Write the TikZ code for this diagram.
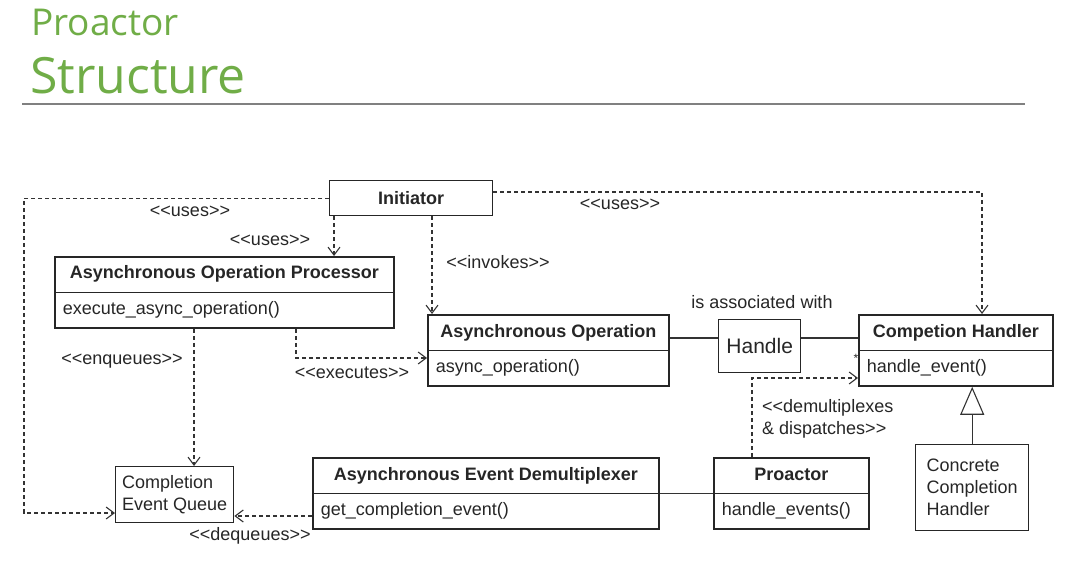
\documentclass[tikz,border=0pt]{standalone}
\usepackage{fontspec}
\setmainfont{Liberation Sans}[Ligatures=TeXOff]
\newfontfamily\titlefont{Open Sans}
\usetikzlibrary{positioning, arrows.meta, shapes.multipart, calc}
\definecolor{titlegreen}{RGB}{112,173,71}

\begin{document}
\begin{tikzpicture}[
    x=1pt, y=-1pt,
    every node/.style={font=\fontsize{18}{22}\selectfont, text=black!85},
    cls/.style={rectangle split, rectangle split parts=2, rectangle split part align={center,left}, rectangle split draw splits=false, draw=black!85, line width=1.6pt, inner xsep=8pt, inner ysep=6pt, anchor=north west},
    box/.style={rectangle, draw=black!85, line width=1.4pt, anchor=north west, align=left},
    lbl/.style={inner sep=0pt},
    dep/.style={dash pattern=on 4pt off 3pt, line width=1.1pt, draw=black!80, -{Straight Barb[length=8pt, width=12pt]}},
    assoc/.style={line width=1.1pt, draw=black!80},
    inherit/.style={line width=1.1pt, draw=black!80, -{Triangle[open, length=28pt, width=24pt]}}
]
\useasboundingbox (0,0) rectangle (1070,577);

% Title
\node[lbl, anchor=base west, font=\titlefont\fontsize{37}{40}\selectfont, text=titlegreen] (ttl) at (31,36) {Proactor};
\node[lbl, anchor=base west, font=\titlefont\fontsize{50}{54}\selectfont, text=titlegreen] (sub) at (30,94) {Structure};
\draw[gray, line width=1.2pt] (22,104) -- (1025,104);

% Classes
\node[box, font=\bfseries\fontsize{18}{22}\selectfont, align=center, minimum width=163pt, minimum height=35pt] (init) at (329,180) {Initiator};
\node[cls, minimum width=339pt] (aop) at (54,256) {\strut\textbf{Asynchronous Operation Processor}\nodepart{two}\strut execute\_async\_operation()};
\node[cls, minimum width=241pt] (ao) at (427,314) {\strut\textbf{Asynchronous Operation}\nodepart{two}\strut async\_operation()};
\node[cls, minimum width=194pt] (ch) at (858,314) {\strut\textbf{Competion Handler}\nodepart{two}\strut handle\_event()};
\node[cls, minimum width=346pt] (aed) at (312,457) {\strut\textbf{Asynchronous Event Demultiplexer}\nodepart{two}\strut get\_completion\_event()};
\node[cls, minimum width=155pt] (pro) at (713,457) {\strut\textbf{Proactor}\nodepart{two}\strut handle\_events()};
\foreach \n in {aop, ao, ch, aed, pro}
    \draw[line width=0.9pt, black!85] (\n.text split west) -- (\n.text split east);

% Other boxes
\node[box, align=center, font=\fontsize{21}{24}\selectfont, minimum width=82pt, minimum height=53pt] (hd) at (718,319) {Handle};
\node[box, minimum width=118pt, minimum height=56pt] (ceq) at (115,466) {Completion\\Event Queue};
\node[box, minimum width=113pt, minimum height=86pt] (cch) at (915,444) {Concrete\\Completion\\Handler};

% Helper points
\coordinate (lc) at (24,513);
\coordinate (ay) at (0,338);
\coordinate (u1) at ($(init.south west)+(5,0)$);
\coordinate (u2) at ($(ao.north west)+(5,0)$);
\coordinate (u3) at (982,192);
\coordinate (e1) at (194,324);
\coordinate (x1) at (296,358);
\coordinate (d1) at (752,378);
\coordinate (q1) at (0,516);

% Dependencies
\draw[dep] (init.west) -| (lc) -- (lc -| ceq.west);
\draw[dep] (u1) -- (u1 |- aop.north);
\draw[dep] (u2 |- init.south) -- (u2);
\draw[dep] (init.east |- u3) -| (u3 |- ch.north);
\draw[dep] (e1 |- aop.south) -- (e1 |- ceq.north);
\draw[dep] (x1 |- aop.south) |- (x1 -| ao.west);
\draw[dep] (d1 |- pro.north) |- (d1 -| ch.west);
\draw[dep] (q1 -| aed.west) -- (q1 -| ceq.east);

% Associations
\draw[assoc] (ao.east |- ay) -- (hd.west |- ay);
\draw[assoc] (hd.east |- ay) -- (ch.west |- ay);
\draw[assoc] (aed.east) -- (pro.west);
\draw[inherit] (cch.north) -- (cch.north |- ch.south);

% Labels
\node[lbl] (l1) at (190,211) {<<uses>>};
\node[lbl] (l2) at (270,240) {<<uses>>};
\node[lbl] (l3) at (498,262) {<<invokes>>};
\node[lbl] (l4) at (620,204) {<<uses>>};
\node[lbl] (l5) at (122,361) {<<enqueues>>};
\node[lbl] (l6) at (352,373) {<<executes>>};
\node[lbl] (l7) at (762,302) {is associated with};
\node[lbl, anchor=west, align=left] (l8) at (762,419) {<<demultiplexes\\\& dispatches>>};
\node[lbl] (l9) at (250,536) {<<dequeues>>};
\node[lbl, font=\fontsize{12}{14}\selectfont] (star) at (856,358) {*};

\end{tikzpicture}
\end{document}
